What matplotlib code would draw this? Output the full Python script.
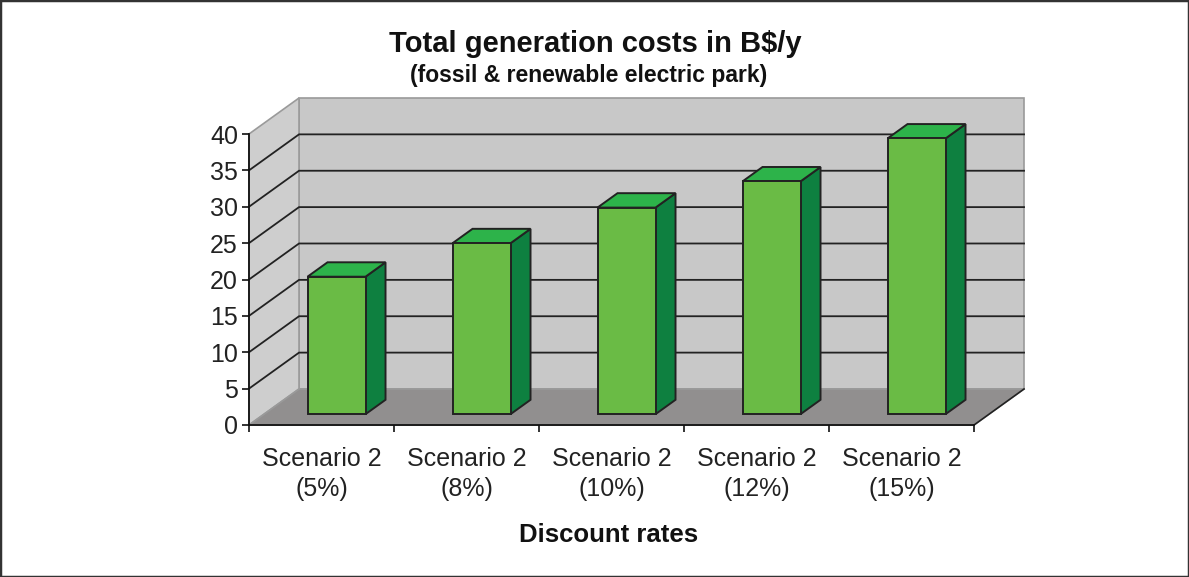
import matplotlib.pyplot as plt
from matplotlib.patches import Polygon, Rectangle

plt.rcParams["font.family"] = ["Liberation Sans", "DejaVu Sans"]

categories = ["Scenario 2\n(5%)", "Scenario 2\n(8%)", "Scenario 2\n(10%)",
              "Scenario 2\n(12%)", "Scenario 2\n(15%)"]
costs = [18.9, 23.5, 28.4, 32.0, 37.9]
y_ticks = list(range(0, 45, 5))

W, H = 1189, 577
fig = plt.figure(figsize=(W / 100, H / 100), dpi=100)
ax = fig.add_axes([249 / W, 1 - 425 / H, (974 - 249) / W, (425 - 134) / H])
n = len(categories)
ymax = y_ticks[-1]
ax.set_xlim(0, n)
ax.set_ylim(0, ymax)
ax.patch.set_visible(False)

# oblique depth of the floor, in data units
DX, DY = 0.345, 4.95
F0, DEPTH = 0.3, 0.4   # bar front position / bar depth as fraction of floor depth
BW = 0.4

wall_edge = "#9a9a9a"
grid_c = "#222222"

# walls and floor
back = Polygon([(DX, DY), (n + DX, DY), (n + DX, ymax + DY), (DX, ymax + DY)],
               closed=True, fc="#c8c8c8", ec=wall_edge, lw=1.2, clip_on=False, zorder=1)
side = Polygon([(0, 0), (DX, DY), (DX, ymax + DY), (0, ymax)],
               closed=True, fc="#cecece", ec=wall_edge, lw=1.2, clip_on=False, zorder=1)
floor = Polygon([(0, 0), (n, 0), (n + DX, DY), (DX, DY)],
                closed=True, fc="#918f8f", ec=wall_edge, lw=1.2, clip_on=False, zorder=1)
for p in (back, side, floor):
    ax.add_patch(p)
ax.plot([n, n + DX], [0, DY], color=grid_c, lw=1.2, clip_on=False, zorder=2)

for v in y_ticks[1:-1]:
    ax.plot([0, DX, n + DX], [v, v + DY, v + DY], color=grid_c, lw=1.3,
            clip_on=False, zorder=2, solid_joinstyle="miter")

# bars
for i, v in enumerate(costs):
    x0 = i + 0.5 - BW / 2 + F0 * DX
    y0 = F0 * DY
    ddx, ddy = DEPTH * DX, DEPTH * DY
    kw = dict(ec="#222222", lw=1.4, clip_on=False, zorder=3, joinstyle="miter")
    ax.add_patch(Polygon([(x0 + BW, y0), (x0 + BW + ddx, y0 + ddy),
                          (x0 + BW + ddx, y0 + v + ddy), (x0 + BW, y0 + v)],
                         closed=True, fc="#0e8040", **kw))
    ax.add_patch(Polygon([(x0, y0 + v), (x0 + BW, y0 + v),
                          (x0 + BW + ddx, y0 + v + ddy), (x0 + ddx, y0 + v + ddy)],
                         closed=True, fc="#2db34a", **kw))
    ax.add_patch(Rectangle((x0, y0), BW, v, fc="#6abb45", **kw))

# axes
for s in ("top", "right"):
    ax.spines[s].set_visible(False)
for s in ("left", "bottom"):
    ax.spines[s].set_color("#111111")
    ax.spines[s].set_linewidth(1.3)
    ax.spines[s].set_zorder(4)
ax.set_yticks(y_ticks)
ax.tick_params(axis="y", direction="out", length=5, width=1.2, pad=3,
               labelsize=18, labelcolor="#222222", color="#111111")
ax.set_xticks(range(n + 1))
ax.set_xticklabels([])
ax.set_xticks([i + 0.5 for i in range(n)], minor=True)
ax.set_xticklabels(categories, minor=True, fontsize=18, linespacing=1.28,
                   color="#222222")
ax.tick_params(axis="x", which="major", direction="out", length=5, width=1.2,
               color="#111111")
ax.tick_params(axis="x", which="minor", length=0, pad=16)

fig.text(595 / W, 1 - 52 / H, "Total generation costs in B$/y", ha="center",
         va="baseline", fontsize=21, fontweight="bold", color="#111111")
fig.text(589 / W, 1 - 82 / H, "(fossil & renewable electric park)", ha="center",
         va="baseline", fontsize=16.5, fontweight="bold", color="#111111")
fig.text(609 / W, 1 - 542 / H, "Discount rates", ha="center", va="baseline",
         fontsize=18.5, fontweight="bold", color="#111111")

fig.add_artist(Rectangle((0, 0), 1, 1, transform=fig.transFigure, fill=False,
                         ec="#333333", lw=2.5))

fig.savefig("out.png", dpi=100)
